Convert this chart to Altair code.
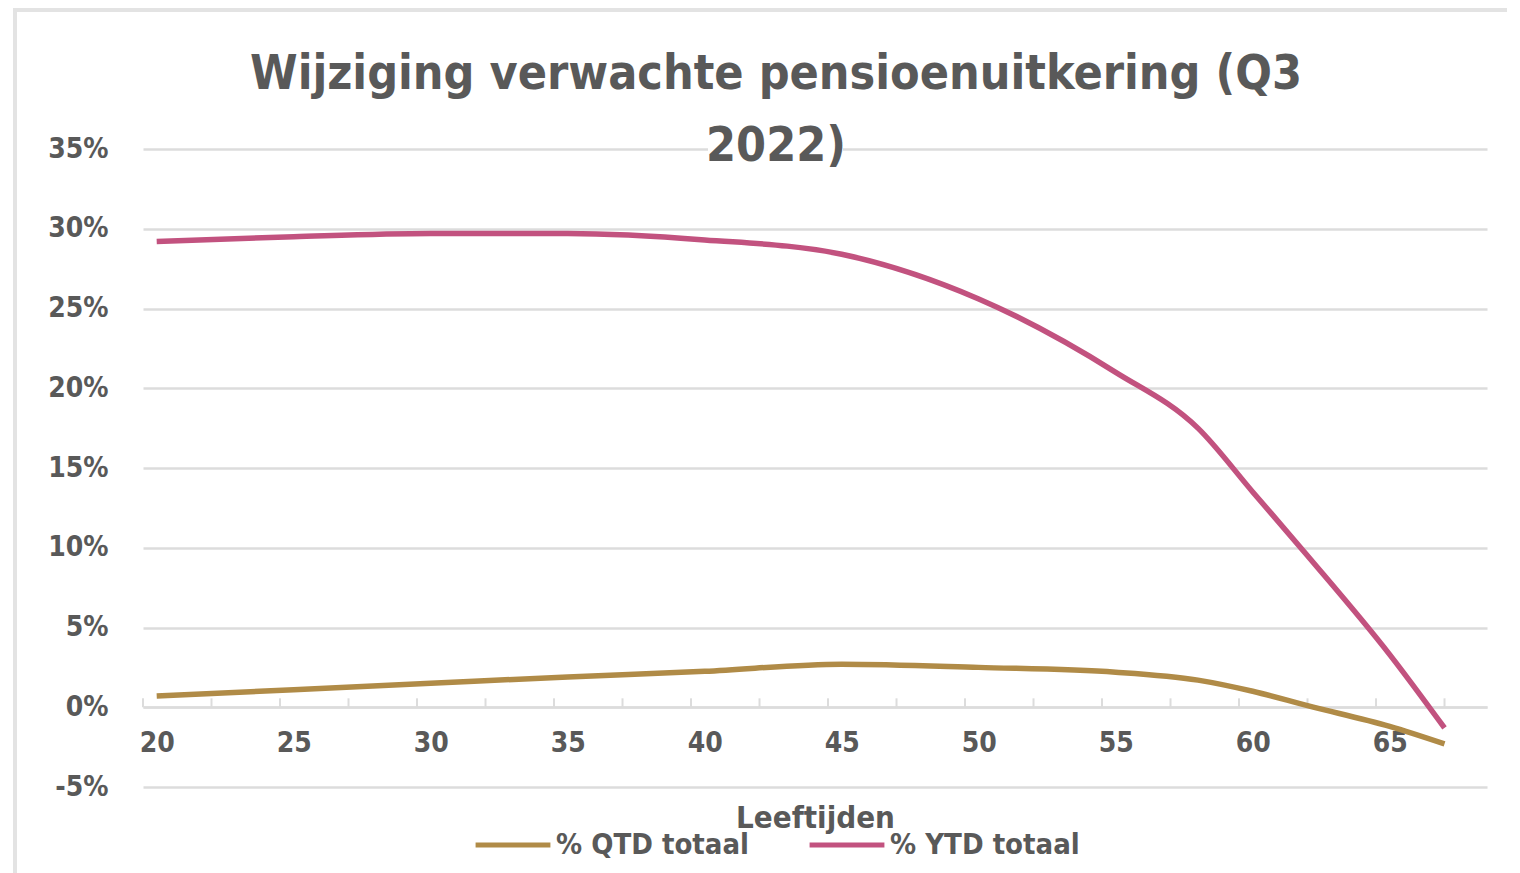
import altair as alt
import pandas as pd

# ---- data ----
ages = [20, 25, 30, 35, 40, 45, 50, 55, 58, 60, 62, 65, 67]
qtd_totaal = [0.7, 1.1, 1.5, 1.9, 2.25, 2.7, 2.5, 2.2, 1.7, 1.0, 0.1, -1.2, -2.3]
ytd_totaal = [29.2, 29.5, 29.7, 29.7, 29.3, 28.4, 25.6, 21.0, 17.5, 13.5, 9.5, 3.3, -1.3]
series_names = ["% QTD totaal", "% YTD totaal"]
series_colors = ["#B08B47", "#C2527F"]
y_tick_values = [-5, 0, 5, 10, 15, 20, 25, 30, 35]
x_label_values = [20, 25, 30, 35, 40, 45, 50, 55, 60, 65]
x_minor_ticks = [19.5, 22, 24.5, 27, 29.5, 32, 34.5, 37, 39.5, 42, 44.5, 47,
                 49.5, 52, 54.5, 57, 59.5, 62, 64.5, 67]
title_lines = ["Wijziging verwachte pensioenuitkering (Q3", "2022)"]
x_title = "Leeftijden"

FONT = "DejaVu Sans Condensed, Liberation Sans, sans-serif"
TXT = "#595959"
GRID = "#dcdcdc"

rows = []
for name, vals in zip(series_names, [qtd_totaal, ytd_totaal]):
    for a, v in zip(ages, vals):
        rows.append({"Leeftijd": a, "Waarde": v, "Reeks": name})
df = pd.DataFrame(rows)
ticks_df = pd.DataFrame({"t": x_minor_ticks})

W, H = 1344, 638
xscale = alt.Scale(domain=[19.5, 68.55], nice=False, zero=False)
yscale = alt.Scale(domain=[-5, 35], nice=False)

base_x = alt.X(
    "Leeftijd:Q", scale=xscale, title=x_title,
    axis=alt.Axis(values=x_label_values, ticks=False, tickSize=0, grid=False,
                  domain=True, domainColor=GRID, domainWidth=2.5,
                  offset=-80, labelPadding=22, labelFontSize=28,
                  labelColor=TXT, labelFont=FONT, labelFontWeight="bold",
                  titleFont=FONT, titleFontSize=31, titleColor=TXT,
                  titleFontWeight="bold", titlePadding=46)
)
base_y = alt.Y(
    "Waarde:Q", scale=yscale, title=None,
    axis=alt.Axis(values=y_tick_values, labelExpr="datum.value + '%'",
                  ticks=False, tickSize=0, domain=False, grid=True,
                  gridColor=GRID, gridWidth=2.5, labelPadding=35,
                  labelFontSize=28, labelColor=TXT, labelFont=FONT,
                  labelFontWeight="bold")
)

lines = alt.Chart(df).mark_line(strokeWidth=5.5, interpolate="monotone").encode(
    x=base_x,
    y=base_y,
    color=alt.Color("Reeks:N",
                    scale=alt.Scale(domain=series_names, range=series_colors),
                    legend=alt.Legend(title=None, orient="none", direction="horizontal",
                                      legendX=330, legendY=656, symbolType="stroke",
                                      symbolStrokeWidth=5, symbolSize=5600,
                                      labelFontSize=29, labelFont=FONT, labelColor=TXT,
                                      labelFontWeight="bold", labelLimit=0,
                                      labelOffset=3, columnPadding=50, padding=0)),
)

minor = alt.Chart(ticks_df).mark_rule(color=GRID, strokeWidth=2).encode(
    x=alt.X("t:Q", scale=xscale),
    y=alt.datum(0),
    y2=alt.datum(0.56),
)

# white box behind the second title line (as in the original title background)
mask = alt.Chart(ticks_df.head(1)).mark_rect(color="white").encode(
    x=alt.value(565), x2=alt.value(700), y=alt.value(-10), y2=alt.value(12)
)

frame_top = alt.Chart(ticks_df.head(1)).mark_rule(color="#e3e3e3", strokeWidth=4).encode(
    x=alt.value(-130), x2=alt.value(1380), y=alt.value(-139)
)
frame_left = alt.Chart(ticks_df.head(1)).mark_rule(color="#e3e3e3", strokeWidth=4).encode(
    x=alt.value(-128), y=alt.value(-141), y2=alt.value(730)
)

chart = alt.layer(frame_top, frame_left, minor, mask, lines).properties(
    width=W, height=H,
    background="white",
    padding={"left": 135, "top": 141, "right": 20, "bottom": 90},
    autosize=alt.AutoSizeParams(type="none"),
    title=alt.TitleParams(text=title_lines, font=FONT, fontSize=48,
                          fontWeight="bold", color=TXT, lineHeight=72,
                          anchor="middle", dx=-39, dy=125, offset=-40),
).configure_view(strokeWidth=0, stroke="transparent")

chart.save("out.html", embed_options={"renderer": "svg", "actions": False})
